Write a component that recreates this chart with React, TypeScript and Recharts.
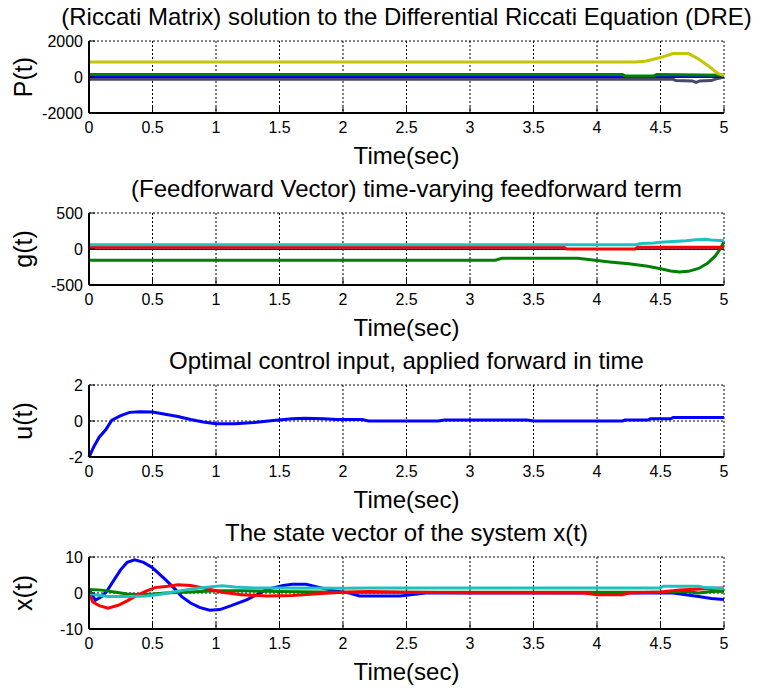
import { CartesianGrid, Line, LineChart, XAxis, YAxis } from "recharts";

type Pt = [number, number];

const TIME_TICKS = [0, 0.5, 1, 1.5, 2, 2.5, 3, 3.5, 4, 4.5, 5];

// P(t) entries of the Riccati matrix
const P_SLATE: Pt[] = [[0, -120], [4.6, -120], [4.62, -200], [4.75, -220], [4.78, -300], [4.81, -220], [4.9, -200], [4.95, -80], [5, 0]];
const P_BLUE: Pt[] = [[0, 30], [5, 30]];
const P_GREEN: Pt[] = [[0, 140], [4.2, 140], [4.22, 60], [4.45, 60], [4.47, 140], [5, 100]];
const P_YELLOW: Pt[] = [[0, 830], [4.3, 830], [4.38, 880], [4.5, 1080], [4.6, 1300], [4.72, 1300], [4.8, 1000], [4.88, 600], [4.95, 200], [5, 80]];

// g(t) feedforward term
const G_BLUE: Pt[] = [[0, -5], [5, -5]];
const G_GREEN: Pt[] = [[0, -155], [3.2, -155], [3.25, -130], [3.85, -130], [3.95, -150], [4.0, -160], [4.1, -180], [4.25, -205], [4.4, -240], [4.5, -275], [4.58, -305], [4.65, -318], [4.72, -310], [4.8, -270], [4.87, -200], [4.93, -100], [4.97, 0], [5, 100]];
const G_RED: Pt[] = [[0, 25], [3.74, 25], [3.76, 0], [4.3, 0], [4.32, 25], [5, 25]];
const G_CYAN: Pt[] = [[0, 58], [4.3, 58], [4.35, 75], [4.45, 85], [4.5, 95], [4.6, 105], [4.7, 115], [4.78, 130], [4.85, 135], [4.9, 125], [5, 115]];

// u(t) control input
const U_BLUE: Pt[] = [[0, -2], [0.04, -1.4], [0.08, -0.9], [0.13, -0.5], [0.18, 0.05], [0.25, 0.3], [0.32, 0.48], [0.4, 0.52], [0.5, 0.5], [0.6, 0.38], [0.7, 0.25], [0.8, 0.08], [0.9, -0.05], [1.0, -0.15], [1.15, -0.15], [1.3, -0.08], [1.45, 0.03], [1.6, 0.12], [1.7, 0.15], [1.85, 0.13], [1.95, 0.08], [2.15, 0.08], [2.2, 0], [2.75, 0], [2.8, 0.05], [3.45, 0.05], [3.5, 0], [4.2, 0], [4.22, 0.05], [4.4, 0.05], [4.42, 0.12], [4.58, 0.12], [4.6, 0.2], [5, 0.2]];

// x(t) state vector
const X_BLUE: Pt[] = [[0, 1], [0.05, -2], [0.1, -1], [0.14, 0.5], [0.2, 3.8], [0.25, 6.5], [0.3, 8.5], [0.36, 9.2], [0.43, 8.5], [0.5, 7], [0.6, 3.8], [0.68, 1], [0.73, -1], [0.8, -2.8], [0.87, -4], [0.95, -4.8], [1.03, -4.6], [1.12, -3.5], [1.24, -1.9], [1.32, -0.5], [1.4, 1], [1.53, 2.1], [1.6, 2.4], [1.71, 2.4], [1.82, 1.5], [1.95, 0.5], [2.05, 0], [2.13, -0.8], [2.45, -0.8], [2.55, -0.4], [2.65, 0], [4.6, 0], [4.7, -0.5], [4.8, -1], [4.9, -1.5], [5, -1.8]];
const X_GREEN: Pt[] = [[0, 1], [0.1, 0.8], [0.2, 0.3], [0.3, -0.3], [0.4, -0.5], [0.5, -0.3], [0.6, 0], [0.8, 0.3], [1.0, 0.6], [1.2, 0.6], [1.5, 0.4], [2.0, 0.2], [4.5, 0.2], [4.7, 0.4], [4.8, 0], [4.9, 0.4], [5, 0.5]];
const X_RED: Pt[] = [[0, 0], [0.03, -2.5], [0.08, -3.5], [0.15, -4.2], [0.23, -3.4], [0.3, -2.2], [0.37, -0.8], [0.45, 0.5], [0.52, 1.5], [0.62, 1.9], [0.7, 2.3], [0.8, 2.1], [0.93, 1.2], [1.05, 0.2], [1.2, -0.5], [1.4, -0.8], [1.6, -0.7], [1.8, -0.2], [2.0, 0.2], [2.2, 0.4], [2.5, 0.2], [3.0, 0.1], [3.9, 0], [4.0, -0.5], [4.2, -0.5], [4.25, 0], [4.5, 0.3], [4.65, 0.8], [4.85, 1.2], [5, 1.4]];
const X_CYAN: Pt[] = [[0, 0], [0.05, -0.5], [0.15, -1.0], [0.3, -1.0], [0.45, -0.8], [0.55, -0.4], [0.65, 0.2], [0.75, 0.8], [0.85, 1.3], [0.95, 1.7], [1.05, 2.0], [1.15, 1.7], [1.3, 1.4], [1.5, 1.4], [2.0, 1.3], [2.2, 1.4], [4.5, 1.4], [4.52, 1.9], [4.8, 1.9], [4.85, 1.5], [5, 1.3]];

const BLUE = "#0000ff";
const GREEN = "#008000";
const RED = "#ff0000";
const CYAN = "#1fc0c0";
const YELLOW = "#c4c400";
const SLATE = "#454866";

const FONT = "'Liberation Sans', Arial, sans-serif";
const PLOT_LEFT = 89;
const PLOT_RIGHT = 724;
const PLOT_H = 72;
const CHART_H = 172;
const PLOT_TOP = 41;

type Series = { pts: Pt[]; color: string; width?: number };

const panels: {
  title: string;
  ylabel: string;
  yTicks: number[];
  series: Series[];
}[] = [
  {
    title: "(Riccati Matrix) solution to the Differential Riccati Equation (DRE)",
    ylabel: "P(t)",
    yTicks: [-2000, 0, 2000],
    series: [
      { pts: P_SLATE, color: SLATE },
      { pts: P_BLUE, color: BLUE },
      { pts: P_GREEN, color: GREEN },
      { pts: P_YELLOW, color: YELLOW },
    ],
  },
  {
    title: "(Feedforward Vector) time-varying feedforward term",
    ylabel: "g(t)",
    yTicks: [-500, 0, 500],
    series: [
      { pts: G_BLUE, color: BLUE, width: 1.5 },
      { pts: G_GREEN, color: GREEN },
      { pts: G_RED, color: RED },
      { pts: G_CYAN, color: CYAN },
    ],
  },
  {
    title: "Optimal control input, applied forward in time",
    ylabel: "u(t)",
    yTicks: [-2, 0, 2],
    series: [{ pts: U_BLUE, color: BLUE }],
  },
  {
    title: "The state vector of the system x(t)",
    ylabel: "x(t)",
    yTicks: [-10, 0, 10],
    series: [
      { pts: X_BLUE, color: BLUE },
      { pts: X_GREEN, color: GREEN },
      { pts: X_RED, color: RED },
      { pts: X_CYAN, color: CYAN },
    ],
  },
];

const rows = (pts: Pt[]) => pts.map(([t, v]) => ({ t, v }));

const tickStyle = { fill: "#000", fontSize: 16, fontFamily: FONT };

function Panel({ index }: { index: number }) {
  const p = panels[index];
  const top = index * CHART_H;
  const plotTop = top + PLOT_TOP;
  const cx = (PLOT_LEFT + PLOT_RIGHT) / 2;
  const dom: [number, number] = [p.yTicks[0], p.yTicks[p.yTicks.length - 1]];
  return (
    <>
      <div
        style={{
          position: "absolute",
          left: cx - 400,
          width: 800,
          top: plotTop - 24 - 12,
          height: 24,
          lineHeight: "24px",
          fontSize: 24,
          fontFamily: FONT,
          textAlign: "center",
          whiteSpace: "nowrap",
        }}
      >
        {p.title}
      </div>
      <div
        style={{
          position: "absolute",
          left: 23 - 50,
          width: 100,
          top: plotTop + PLOT_H / 2 - 13,
          height: 26,
          lineHeight: "26px",
          fontSize: 25,
          fontFamily: FONT,
          textAlign: "center",
          transform: "rotate(-90deg)",
        }}
      >
        {p.ylabel}
      </div>
      <div
        style={{
          position: "absolute",
          left: cx - 100,
          width: 200,
          top: plotTop + PLOT_H + 43 - 12,
          height: 24,
          lineHeight: "24px",
          fontSize: 24,
          fontFamily: FONT,
          textAlign: "center",
        }}
      >
        Time(sec)
      </div>
      <div style={{ position: "absolute", left: 0, top }}>
        <LineChart
          width={767}
          height={CHART_H}
          margin={{ top: PLOT_TOP, right: 767 - PLOT_RIGHT, bottom: 0, left: 0 }}
        >
          <CartesianGrid stroke="#000" strokeDasharray="2 2" strokeWidth={1} />
          <XAxis
            dataKey="t"
            type="number"
            domain={[0, 5]}
            ticks={TIME_TICKS}
            allowDuplicatedCategory={false}
            height={CHART_H - PLOT_TOP - PLOT_H}
            axisLine={{ stroke: "#000", strokeWidth: 2 }}
            tickLine={{ stroke: "#000" }}
            tickSize={-6}
            tickMargin={15}
            tick={tickStyle}
            interval={0}
          />
          <XAxis
            xAxisId="top"
            orientation="top"
            dataKey="t"
            type="number"
            domain={[0, 5]}
            ticks={TIME_TICKS}
            height={0}
            axisLine={{ stroke: "#000", strokeWidth: 2 }}
            tickLine={{ stroke: "#000" }}
            tickSize={-6}
            tick={false}
          />
          <YAxis
            type="number"
            domain={dom}
            ticks={p.yTicks}
            width={PLOT_LEFT}
            axisLine={{ stroke: "#000", strokeWidth: 2 }}
            tickLine={{ stroke: "#000" }}
            tickSize={-6}
            tickMargin={12}
            tick={tickStyle}
            interval={0}
          />
          <YAxis
            yAxisId="right"
            orientation="right"
            type="number"
            domain={dom}
            ticks={p.yTicks}
            width={0}
            axisLine={{ stroke: "#000", strokeWidth: 2 }}
            tickLine={{ stroke: "#000" }}
            tickSize={-6}
            tick={false}
          />
          {p.series.map((s, i) => (
            <Line
              key={i}
              data={rows(s.pts)}
              dataKey="v"
              type="linear"
              stroke={s.color}
              strokeWidth={s.width ?? 3}
              dot={false}
              activeDot={false}
              isAnimationActive={false}
            />
          ))}
        </LineChart>
      </div>
    </>
  );
}

export default function App() {
  return (
    <div
      style={{
        position: "absolute",
        left: 0,
        top: 0,
        width: 767,
        height: 691,
        background: "#fff",
        overflow: "hidden",
      }}
    >
      {panels.map((_, i) => (
        <Panel key={i} index={i} />
      ))}
    </div>
  );
}
